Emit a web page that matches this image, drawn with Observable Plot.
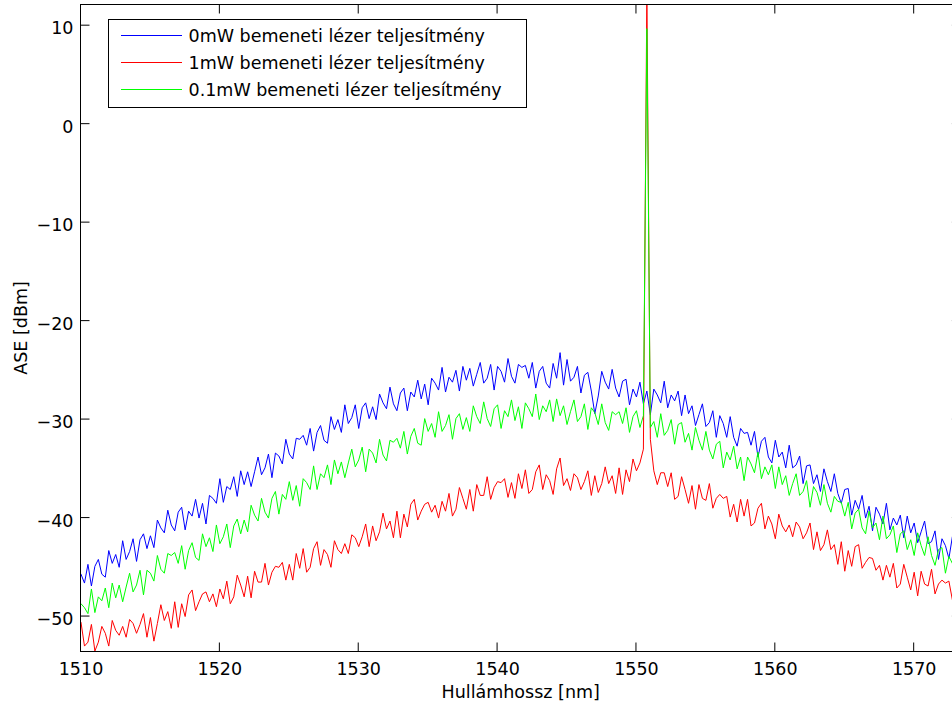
<!DOCTYPE html>
<html><head><meta charset="utf-8">
<script src="https://cdn.jsdelivr.net/npm/d3@7"></script>
<script src="https://cdn.jsdelivr.net/npm/@observablehq/plot@0.6"></script>
<style>html,body{margin:0;padding:0;background:#fff;overflow:hidden}</style>
</head><body><div id="chart"></div>
<script>
// Optical spectrum analyser sampling grid (nm)
const lambdaStart = 1510, lambdaStep = 0.25;

// ASE spectra (dBm), one value per grid point (4 per nm)
const blue0mW = [
-45.7,-46.6,-44.7,-46.9, -44.9,-44.2,-45.7,-46.0, -43.3,-44.6,-43.7,-45.0, -42.3,-44.2,-43.4,-42.1,
-44.4,-42.2,-41.6,-43.1, -41.8,-43.0,-40.2,-41.0, -41.5,-39.2,-40.7,-41.3, -39.4,-38.9,-41.2,-39.3,
-39.8,-38.1,-40.0,-38.5, -40.6,-37.7,-38.0,-38.5, -36.0,-38.4,-36.8,-37.1, -35.8,-37.8,-35.2,-36.6,
-35.3,-36.8,-35.3,-33.8, -35.6,-34.9,-33.5,-35.9, -33.4,-33.7,-34.5,-32.0, -33.5,-34.0,-31.9,-32.0,
-31.6,-32.6,-30.9,-33.2, -31.3,-30.6,-32.1,-32.4, -29.7,-31.0,-30.0,-31.3, -28.5,-30.4,-29.8,-28.5,
-30.9,-28.8,-28.3,-29.9, -28.7,-30.0,-27.4,-28.3, -28.9,-26.7,-28.4,-29.1, -27.3,-26.8,-29.1,-27.2,
-27.7,-26.0,-27.9,-26.4, -28.5,-25.8,-26.3,-27.0, -24.7,-27.2,-25.7,-26.2, -25.0,-27.1,-24.6,-26.0,
-24.8,-26.6,-25.4,-24.2, -26.3,-25.8,-24.4,-27.0, -24.6,-25.1,-26.2,-23.8, -25.6,-26.3,-24.4,-24.7,
-24.5,-25.8,-24.2,-26.8, -25.1,-24.6,-26.3,-26.8, -24.3,-25.8,-23.2,-26.5, -23.9,-26.1,-25.7,-24.6,
-27.3,-25.5,-25.2,-27.1, -29.4,-27.6,-25.1,-26.2, -26.9,-24.9,-26.8,-27.7, -26.1,-25.9,-28.5,-26.9,
-27.7,-26.2,-28.4,-27.1, -29.5,-26.9,-27.5,-28.3, -26.1,-28.8,-27.5,-28.1, -27.1,-29.6,-27.5,-29.4,
-28.6,-30.6,-29.5,-28.4, -30.7,-30.3,-29.1,-31.8, -29.6,-30.4,-31.8,-29.7, -31.8,-32.7,-30.9,-31.4,
-31.3,-32.6,-31.2,-33.8, -32.2,-31.8,-33.8,-34.4, -32.1,-33.8,-33.3,-34.9, -32.6,-34.9,-34.6,-33.7,
-36.5,-34.7,-34.6,-36.5, -35.6,-37.3,-35.0,-36.3, -37.3,-35.5,-37.5,-38.5, -37.1,-37.0,-39.7,-38.2,
-39.1,-37.7,-40.0,-38.8, -41.3,-38.9,-39.6,-40.6, -38.5,-41.2,-40.0,-40.7, -39.7,-42.0,-39.8,-41.5,
-40.5,-42.5,-41.4,-40.3, -42.6,-42.4,-41.3,-44.2, -42.1,-42.8,-44.1,-41.9, -43.9
];
const red1mW = [
-50.6,-53.0,-52.6,-50.8, -53.5,-52.6,-51.0,-51.7, -53.0,-50.4,-51.4,-51.9, -51.0,-52.1,-50.3,-50.7,
-51.7,-50.8,-49.7,-52.1, -50.1,-52.5,-50.7,-48.8, -50.4,-49.5,-51.2,-48.5, -51.1,-48.7,-50.0,-47.8,
-47.3,-49.4,-48.5,-47.7, -47.5,-48.5,-47.7,-49.0, -47.2,-48.2,-46.4,-48.7, -48.0,-45.8,-46.8,-48.0,
-45.9,-48.1,-45.4,-46.5, -46.5,-44.6,-46.8,-45.5, -44.9,-45.0,-44.5,-46.3, -44.7,-46.3,-43.6,-45.1,
-43.1,-45.5,-45.0,-43.1, -42.4,-44.8,-43.2,-43.7, -45.0,-42.3,-43.2,-43.6, -42.6,-43.6,-41.7,-42.0,
-42.9,-41.9,-40.6,-42.9, -40.8,-42.3,-41.4,-39.5, -41.1,-40.3,-42.0,-39.3, -42.0,-39.6,-40.9,-38.6,
-38.1,-40.2,-39.3,-38.6, -38.4,-39.4,-38.7,-40.0, -38.3,-39.3,-37.5,-39.8, -39.1,-36.9,-38.0,-39.1,
-37.1,-39.3,-36.6,-37.7, -37.7,-35.8,-38.1,-36.9, -36.3,-36.4,-36.0,-37.9, -36.4,-38.0,-35.5,-37.0,
-35.1,-37.5,-37.1,-35.3, -34.6,-37.1,-35.6,-36.2, -37.6,-35.0,-33.9,-36.7, -36.0,-37.2,-35.5,-35.9,
-37.1,-36.3,-35.2,-37.7, -35.7,-37.4,-36.5,-34.8, -36.5,-35.7,-37.5,-34.9, -37.6,-35.1,-36.3,-34.0,
-35.2,-34.4,-33.0,13.5, -32.0,-35.2,-36.6,-35.4, -35.4,-36.8,-35.4,-38.1, -37.8,-35.8,-37.1,-38.5,
-36.7,-39.1,-36.6,-38.0, -38.2,-36.5,-39.0,-38.0, -37.6,-38.0,-37.8,-39.9, -38.6,-40.4,-38.1,-39.8,
-38.1,-40.8,-40.5,-39.0, -38.5,-41.1,-39.8,-40.6, -42.1,-39.6,-40.8,-41.4, -40.7,-41.9,-40.4,-40.9,
-42.1,-41.5,-40.5,-43.2, -41.4,-43.3,-42.7,-41.2, -43.2,-42.7,-44.7,-42.4, -45.4,-43.3,-44.9,-42.9,
-42.7,-45.1,-44.5,-44.0, -44.1,-45.3,-44.8,-46.3, -44.8,-46.0,-44.6,-47.1, -46.7,-44.7,-46.0,-47.3,
-45.5,-47.9,-45.4,-46.7, -46.9,-45.2,-47.7,-46.7, -46.3,-46.6,-46.4,-48.3, -47.0
];
const green01mW = [
-48.7,-49.1,-49.7,-47.2, -49.6,-48.0,-48.4,-47.1, -49.1,-46.6,-48.1,-46.8, -48.5,-47.0,-45.6,-47.5,
-46.8,-45.3,-47.8,-45.3, -45.6,-46.4,-43.8,-45.2, -45.6,-43.6,-43.8,-43.5, -44.6,-42.8,-45.2,-43.3,
-42.5,-44.0,-44.3,-41.6, -42.9,-42.0,-43.4,-40.7, -42.6,-41.9,-40.6,-43.0, -40.8,-40.1,-41.6,-40.2,
-41.4,-38.7,-39.7,-40.3, -38.0,-39.4,-40.0,-38.0, -37.3,-39.6,-37.6,-38.1, -36.3,-38.2,-36.7,-38.8,
-36.0,-36.4,-37.1,-34.7, -37.1,-35.5,-35.9,-34.6, -36.6,-34.1,-35.5,-34.3, -35.9,-34.4,-33.0,-34.8,
-34.1,-32.8,-35.3,-33.0, -33.4,-34.4,-32.0,-33.6, -34.2,-32.1,-32.3,-31.9, -32.9,-31.2,-33.5,-31.7,
-30.9,-32.4,-32.6,-29.9, -31.2,-30.4,-31.8,-29.2, -31.2,-30.6,-29.5,-32.0, -29.9,-29.4,-31.0,-29.8,
-31.2,-28.6,-29.7,-30.4, -28.2,-29.9,-30.7,-28.9, -28.5,-30.9,-29.1,-29.7, -28.0,-30.1,-28.7,-30.9,
-28.3,-28.9,-29.7,-27.4, -30.0,-28.6,-29.2,-28.0, -30.2,-27.9,-29.6,-28.6, -30.5,-29.2,-28.0,-30.2,
-29.7,-28.4,-31.0,-28.8, -29.3,-30.5,-28.4,-30.3, -31.1,-29.2,-29.5,-29.2, -30.4,-28.8,-31.3,-29.7,
-29.1,-30.8,-29.6,9.7, -30.8,-30.2,-31.8,-29.4, -31.6,-31.1,-30.0,-32.5, -30.5,-30.3,-32.3,-31.4,
-33.1,-30.8,-32.1,-33.1, -31.2,-33.1,-34.0,-32.5, -32.2,-34.9,-33.3,-34.1, -32.7,-35.0,-33.8,-36.2,
-33.8,-34.5,-35.4,-33.3, -36.0,-34.8,-35.6,-34.6, -37.0,-34.8,-36.6,-35.7, -37.7,-36.5,-35.5,-37.7,
-37.3,-36.2,-38.9,-36.8, -37.4,-38.7,-36.6,-38.5, -39.4,-37.8,-38.3,-38.4, -39.8,-38.4,-41.1,-39.5,
-39.1,-41.0,-41.6,-39.3, -41.0,-40.5,-42.2,-39.8, -42.1,-41.7,-40.8,-43.5, -41.6,-41.3,-43.2,-42.2,
-43.8,-41.5,-42.8,-43.8, -41.9,-43.8,-44.8,-43.2, -43.0,-45.6,-43.9,-44.6, -43.1
];

const seriesNames = [
  "0mW bemeneti lézer teljesítmény",
  "1mW bemeneti lézer teljesítmény",
  "0.1mW bemeneti lézer teljesítmény"
];
const seriesColors = ["#0000ff", "#ff0000", "#00ff00"];
const xTicks = [1510, 1520, 1530, 1540, 1550, 1560, 1570];
const yTicks = [-50, -40, -30, -20, -10, 0, 10];
const xDomain = [1510, 1573.4];
const yDomain = [-53.6, 12.1];
const xTitle = "Hullámhossz [nm]";
const yTitle = "ASE [dBm]";

const seriesValues = [blue0mW, red1mW, green01mW];
const tables = seriesValues.map((vals, s) =>
  vals.map((v, i) => ({series: seriesNames[s], lambda: lambdaStart + i * lambdaStep, ase: v})));

const FONT = "DejaVu Sans";
const FS = 17.5;
const minusFmt = d => (d < 0 ? "\u2212" + Math.abs(d) : String(d));

const plot = Plot.plot({
  width: 952, height: 704,
  marginLeft: 80, marginRight: 0, marginTop: 5, marginBottom: 53,
  style: {fontFamily: FONT, fontSize: FS + "px", color: "black", background: "white"},
  x: {domain: xDomain, range: [80.5, 960.9]},
  y: {domain: yDomain, range: [651.5, 4.5]},
  marks: [
    ...tables.map((t, s) => Plot.line(t, {x: "lambda", y: "ase", stroke: seriesColors[s], strokeWidth: 1, clip: true})),
    Plot.axisX({ticks: xTicks, tickSize: 0, tickPadding: 11, label: null, tickFormat: minusFmt, fill: "black"}),
    Plot.axisY({ticks: yTicks, tickSize: 0, tickPadding: 7, dy: 3, label: null, tickFormat: minusFmt, fill: "black"})
  ]
});
document.getElementById("chart").appendChild(plot);

// inward MATLAB-style ticks, frame, titles and legend drawn with the plot's own scales
const svg = d3.select(plot);
const sx = plot.scale("x"), sy = plot.scale("y");
const X = v => sx.apply(v), Y = v => sy.apply(v);
const TL = 9;
const g = svg.append("g").attr("stroke", "black").attr("stroke-width", 1).attr("fill", "none");
for (const t of xTicks) {
  g.append("line").attr("x1", X(t)).attr("x2", X(t)).attr("y1", Y(yDomain[0])).attr("y2", Y(yDomain[0]) - TL);
  g.append("line").attr("x1", X(t)).attr("x2", X(t)).attr("y1", Y(yDomain[1])).attr("y2", Y(yDomain[1]) + TL);
}
for (const t of yTicks) {
  g.append("line").attr("y1", Y(t)).attr("y2", Y(t)).attr("x1", X(xDomain[0])).attr("x2", X(xDomain[0]) + TL);
  g.append("line").attr("y1", Y(t)).attr("y2", Y(t)).attr("x1", X(xDomain[1])).attr("x2", X(xDomain[1]) - TL);
}
g.append("rect")
  .attr("x", X(xDomain[0])).attr("y", Y(yDomain[1]))
  .attr("width", X(xDomain[1]) - X(xDomain[0]))
  .attr("height", Y(yDomain[0]) - Y(yDomain[1]));

svg.append("text").text(xTitle)
  .attr("x", (X(xDomain[0]) + X(xDomain[1])) / 2).attr("y", 698)
  .attr("text-anchor", "middle").attr("font-family", FONT).attr("font-size", FS).attr("fill", "black");
svg.append("text").text(yTitle)
  .attr("transform", `translate(27,${(Y(yDomain[0]) + Y(yDomain[1])) / 2}) rotate(-90)`)
  .attr("text-anchor", "middle").attr("font-family", FONT).attr("font-size", FS).attr("fill", "black");

const leg = svg.append("g");
leg.append("rect").attr("x", 108.5).attr("y", 19.5).attr("width", 418).attr("height", 88)
  .attr("fill", "white").attr("stroke", "black").attr("stroke-width", 1);
seriesNames.forEach((name, i) => {
  const yy = 35.5 + i * 27;
  leg.append("line").attr("x1", 121).attr("x2", 182).attr("y1", yy).attr("y2", yy)
    .attr("stroke", seriesColors[i]).attr("stroke-width", 1);
  leg.append("text").text(name).attr("x", 188.5).attr("y", yy + 6)
    .attr("text-anchor", "start")
    .attr("font-family", FONT).attr("font-size", FS).attr("fill", "black");
});
</script>
</body></html>
